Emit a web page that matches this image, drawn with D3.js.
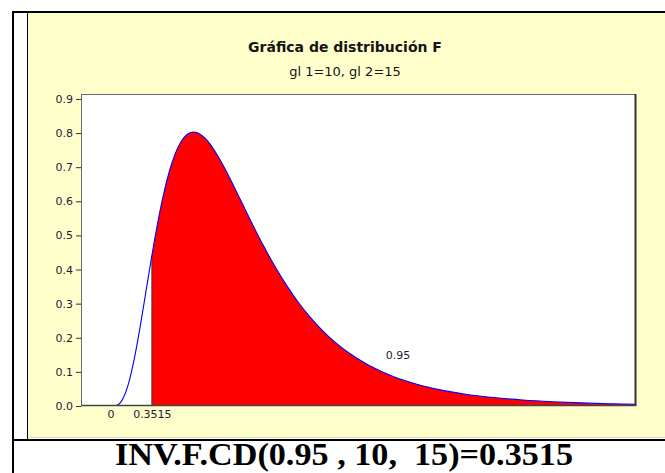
<!DOCTYPE html>
<html>
<head>
<meta charset="utf-8">
<script src="https://cdn.jsdelivr.net/npm/d3@7/dist/d3.min.js"></script>
<style>
  html, body { margin: 0; padding: 0; background: #ffffff; }
  svg { display: block; }
</style>
</head>
<body>
<div id="chart"></div>
<script>
// ---- data ----
const titleText = "Gráfica de distribución F";
const subtitleText = "gl 1=10, gl 2=15";
const formulaText = "INV.F.CD(0.95 , 10,  15)=0.3515";
const xValues = [0, 0.05, 0.1, 0.15, 0.2, 0.25, 0.3, 0.35, 0.3515, 0.4, 0.45, 0.5, 0.55, 0.6, 0.65, 0.7, 0.75, 0.8, 0.85, 0.9, 0.95, 1.0, 1.1, 1.2, 1.3, 1.4, 1.5, 1.6, 1.7, 1.8, 1.9, 2.0, 2.2, 2.4, 2.6, 2.8, 3.0, 3.25, 3.5, 3.75, 4.0, 4.25, 4.5];
const densityValues = [0, 0.0017, 0.0179, 0.0617, 0.1343, 0.2282, 0.3328, 0.4377, 0.4408, 0.5351, 0.6194, 0.6880, 0.7398, 0.7752, 0.7957, 0.8029, 0.7990, 0.7858, 0.7654, 0.7394, 0.7094, 0.6766, 0.6067, 0.5361, 0.4687, 0.4065, 0.3507, 0.3013, 0.2582, 0.2209, 0.1888, 0.1614, 0.1180, 0.0865, 0.0638, 0.0473, 0.0353, 0.0247, 0.0175, 0.0126, 0.0091, 0.0066, 0.0049];
const criticalValue = 0.3515;
const xDomain = [-0.25, 4.46];
const yDomain = [0, 0.9145];
const yTickValues = [0, 0.1, 0.2, 0.3, 0.4, 0.5, 0.6, 0.7, 0.8, 0.9];
const xTickValues = [0, 0.3515];
const xTickLabels = ["0", "0.3515"];
const areaLabel = "0.95";
const areaLabelPos = [2.44, 0.138];

// ---- layout ----
const W = 665, H = 473;
const plot = { left: 81, right: 636, top: 94, bottom: 406 };
const sans = "DejaVu Sans, Verdana, sans-serif";

const svg = d3.select("#chart").append("svg")
  .attr("width", W).attr("height", H)
  .attr("viewBox", `0 0 ${W} ${H}`);

svg.append("rect").attr("width", W).attr("height", H).attr("fill", "#ffffff");

// yellow chart cell
svg.append("rect").attr("x", 28).attr("y", 13).attr("width", W - 28).attr("height", 425)
  .attr("fill", "#ffffcc");
svg.append("rect").attr("x", 28).attr("y", 437).attr("width", W - 28).attr("height", 1)
  .attr("fill", "#d8d8b0");
// table borders
svg.append("rect").attr("x", 12).attr("y", 11).attr("width", W - 12).attr("height", 2).attr("fill", "#000");
svg.append("rect").attr("x", 12).attr("y", 11).attr("width", 2).attr("height", H - 11).attr("fill", "#000");
svg.append("rect").attr("x", 27).attr("y", 13).attr("width", 1).attr("height", 426).attr("fill", "#000");
svg.append("rect").attr("x", 12).attr("y", 439).attr("width", W - 12).attr("height", 2).attr("fill", "#000");

// titles
svg.append("text").attr("x", 345).attr("y", 52)
  .attr("text-anchor", "middle")
  .attr("font-family", sans)
  .attr("font-weight", "bold").attr("font-size", 14)
  .attr("fill", "#141414").text(titleText);
svg.append("text").attr("x", 345).attr("y", 76)
  .attr("text-anchor", "middle")
  .attr("font-family", sans)
  .attr("font-size", 13)
  .attr("fill", "#141414").text(subtitleText);

// scales
const x = d3.scaleLinear().domain(xDomain).range([plot.left, plot.right]);
const y = d3.scaleLinear().domain(yDomain).range([plot.bottom, plot.top]);

// plot background
svg.append("rect").attr("x", plot.left).attr("y", plot.top)
  .attr("width", plot.right - plot.left).attr("height", plot.bottom - plot.top)
  .attr("fill", "#ffffff");

svg.append("clipPath").attr("id", "clip").append("rect")
  .attr("x", plot.left).attr("y", plot.top)
  .attr("width", plot.right - plot.left).attr("height", plot.bottom - plot.top);

const pts = xValues.map((v, i) => ({ x: v, y: densityValues[i] }));
const tail = pts.filter(d => d.x >= criticalValue);

const g = svg.append("g").attr("clip-path", "url(#clip)");

g.append("path").datum(tail)
  .attr("fill", "#ff0000")
  .attr("d", d3.area().x(d => x(d.x)).y0(y(0)).y1(d => y(d.y)).curve(d3.curveMonotoneX));

g.append("line")
  .attr("x1", x(criticalValue)).attr("x2", x(criticalValue))
  .attr("y1", y(0)).attr("y2", y(densityValues[xValues.indexOf(criticalValue)]))
  .attr("stroke", "#3a3a3a").attr("stroke-width", 1);

g.append("path").datum(pts)
  .attr("fill", "none").attr("stroke", "#0000ff").attr("stroke-width", 1.1)
  .attr("d", d3.line().x(d => x(d.x)).y(d => y(d.y)).curve(d3.curveMonotoneX));

// frame
svg.append("rect").attr("x", plot.left + 0.5).attr("y", plot.top + 0.5)
  .attr("width", plot.right - plot.left - 1).attr("height", plot.bottom - plot.top - 1)
  .attr("fill", "none").attr("stroke", "#6a6a6a").attr("stroke-width", 1);
svg.append("line").attr("x1", plot.right - 0.5).attr("x2", plot.right - 0.5)
  .attr("y1", plot.top).attr("y2", plot.bottom)
  .attr("stroke", "#333").attr("stroke-width", 2);
svg.append("line").attr("x1", plot.left).attr("x2", plot.right)
  .attr("y1", plot.bottom - 0.5).attr("y2", plot.bottom - 0.5)
  .attr("stroke", "#444").attr("stroke-width", 1.5);

// y axis
const yAxis = d3.axisLeft(y).tickValues(yTickValues).tickFormat(d3.format(".1f"))
  .tickSize(5).tickPadding(3);
const ya = svg.append("g").attr("transform", `translate(${plot.left},0)`).call(yAxis);
ya.select(".domain").remove();
ya.selectAll(".tick line").attr("stroke", "#333");
ya.selectAll(".tick text").attr("font-family", sans)
  .attr("font-size", 11).attr("fill", "#1c1c3a");

// x axis labels (no tick marks)
const xAxis = d3.axisBottom(x).tickValues(xTickValues)
  .tickFormat((d, i) => xTickLabels[i]).tickSize(0).tickPadding(4);
const xa = svg.append("g").attr("transform", `translate(0,${plot.bottom})`).call(xAxis);
xa.select(".domain").remove();
xa.selectAll(".tick text").attr("font-family", sans)
  .attr("font-size", 11).attr("fill", "#1c1c3a");

// area label
svg.append("text").attr("x", x(areaLabelPos[0])).attr("y", y(areaLabelPos[1]))
  .attr("text-anchor", "middle")
  .attr("font-family", sans)
  .attr("font-size", 11).attr("fill", "#1c1c3a").text(areaLabel);

// formula text
svg.append("text").attr("x", 344).attr("y", 465)
  .attr("text-anchor", "middle")
  .attr("font-family", "Liberation Serif, Times New Roman, serif")
  .attr("font-weight", "bold").attr("font-size", 31)
  .attr("textLength", 458).attr("lengthAdjust", "spacingAndGlyphs")
  .attr("fill", "#000")
  .style("white-space", "pre")
  .text(formulaText);
</script>
</body>
</html>
